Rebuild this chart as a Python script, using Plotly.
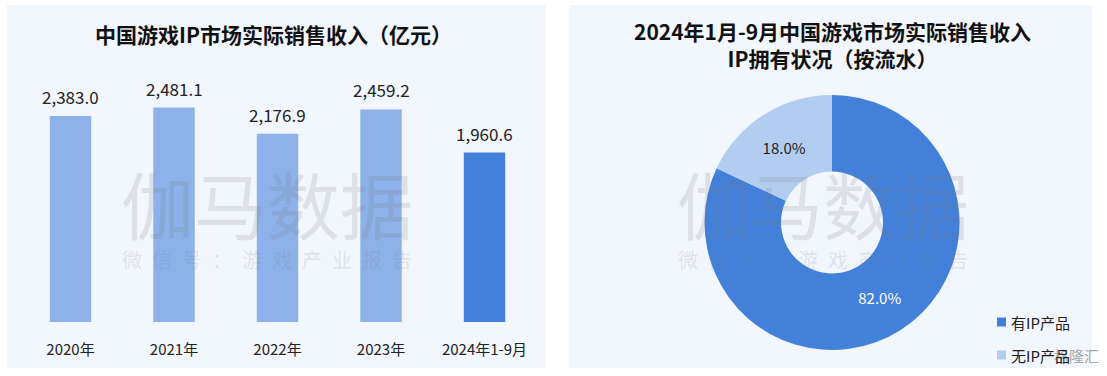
import plotly.graph_objects as go

# ---------------- data ----------------
years = ["2020年", "2021年", "2022年", "2023年", "2024年1-9月"]
revenue = [2383.0, 2481.1, 2176.9, 2459.2, 1960.6]

pie_labels = ["有IP产品", "无IP产品"]
pie_values = [82.0, 18.0]

title_left = "中国游戏IP市场实际销售收入（亿元）"
title_right = "2024年1月-9月中国游戏市场实际销售收入<br>IP拥有状况（按流水）"
wm_big = "伽马数据"
wm_small = "\u2002".join("微信号：游戏产业报告")

# ---------------- style ----------------
W, H = 1107, 376
FONT = "Noto Sans CJK SC"
PANEL_BG = "#F2F6FD"
BAR_LIGHT = "#8DB1E9"
BAR_DARK = "#4480DB"
PIE_DARK = "#4380DA"
PIE_LIGHT = "#B3CDF0"
WM_COLOR = "rgba(120,120,120,0.17)"

def px_x(p):
    return p / W

def px_y(p):
    return 1 - p / H

bar_colors = [BAR_LIGHT] * (len(years) - 1) + [BAR_DARK]
pie_colors = [PIE_DARK, PIE_LIGHT]

fig = go.Figure()

fig.add_trace(go.Bar(
    x=years, y=revenue, marker=dict(color=bar_colors, line=dict(width=0)),
    xaxis="x", yaxis="y", showlegend=False, hoverinfo="x+y",
))

fig.add_trace(go.Pie(
    labels=pie_labels, values=pie_values, hole=0.40, sort=False,
    direction="clockwise", rotation=0,
    marker=dict(colors=pie_colors, line=dict(width=0)),
    texttemplate="%{value:.1f}%", textposition="inside",
    insidetextorientation="horizontal",
    textfont=dict(family=FONT, size=15, color=["white", "#222222"]),
    domain=dict(x=[px_x(704.5), px_x(959.5)], y=[px_y(350), px_y(95)]),
    showlegend=False,
))

annotations = []
# bar value labels
for yr, v in zip(years, revenue):
    annotations.append(dict(
        x=yr, y=v, xref="x", yref="y", text=f"{v:,.1f}", showarrow=False,
        yanchor="bottom", yshift=5, font=dict(family=FONT, size=17, color="#222222"),
    ))

# titles
annotations.append(dict(
    x=px_x(273), y=px_y(34), xref="paper", yref="paper", text=f"<b>{title_left}</b>",
    showarrow=False, xanchor="center", yanchor="middle",
    font=dict(family=FONT, size=21, color="#111111"),
))
annotations.append(dict(
    x=px_x(832), y=px_y(44), xref="paper", yref="paper", text=f"<b>{title_right}</b>",
    showarrow=False, xanchor="center", yanchor="middle",
    font=dict(family=FONT, size=21, color="#111111"),
))

# watermarks
for cx in (267, 823):
    annotations.append(dict(
        x=px_x(cx), y=px_y(202), xref="paper", yref="paper", text=wm_big,
        showarrow=False, xanchor="center", yanchor="middle",
        font=dict(family=FONT, size=73, color=WM_COLOR),
    ))
    annotations.append(dict(
        x=px_x(cx), y=px_y(259), xref="paper", yref="paper", text=wm_small,
        showarrow=False, xanchor="center", yanchor="middle",
        font=dict(family=FONT, size=20, color=WM_COLOR),
    ))

annotations.append(dict(
    x=px_x(1101), y=px_y(355), xref="paper", yref="paper", text="格隆汇",
    showarrow=False, xanchor="right", yanchor="middle",
    font=dict(family=FONT, size=15, color="rgba(140,140,140,0.75)"),
))

shapes = [
    dict(type="rect", xref="paper", yref="paper", x0=px_x(7), x1=px_x(546),
         y0=px_y(368), y1=px_y(5), fillcolor=PANEL_BG, line=dict(width=0), layer="below"),
    dict(type="rect", xref="paper", yref="paper", x0=px_x(569), x1=px_x(1092),
         y0=px_y(368), y1=px_y(5), fillcolor=PANEL_BG, line=dict(width=0), layer="below"),
]

# manual legend for the donut
leg_y = [322, 355]
for lab, col, ly in zip(pie_labels, pie_colors, leg_y):
    shapes.append(dict(type="rect", xref="paper", yref="paper",
                       x0=px_x(997), x1=px_x(1006), y0=px_y(ly + 4.5), y1=px_y(ly - 4.5),
                       fillcolor=col, line=dict(width=0)))
    annotations.append(dict(
        x=px_x(1009), y=px_y(ly), xref="paper", yref="paper", text=lab,
        showarrow=False, xanchor="left", yanchor="middle",
        font=dict(family=FONT, size=15, color="#222222"),
    ))

fig.update_layout(
    width=W, height=H, margin=dict(l=0, r=0, t=0, b=0),
    paper_bgcolor="white", plot_bgcolor="rgba(0,0,0,0)",
    font=dict(family=FONT, color="#222222"),
    bargap=0.6, showlegend=False,
    xaxis=dict(domain=[px_x(18.75), px_x(536.25)], showgrid=False, zeroline=False,
               showline=False, ticks="", tickfont=dict(family=FONT, size=15, color="#222222"),
               ticklabelstandoff=17, fixedrange=True),
    yaxis=dict(domain=[px_y(322), px_y(60)], range=[0, 262 / 0.08645], showgrid=False,
               zeroline=False, showline=False, showticklabels=False, fixedrange=True),
    annotations=annotations, shapes=shapes,
)

fig.write_html(
    "out.html",
    config={"displayModeBar": False},
    post_script="document.body.style.margin='0';document.body.style.overflow='hidden';",
)
